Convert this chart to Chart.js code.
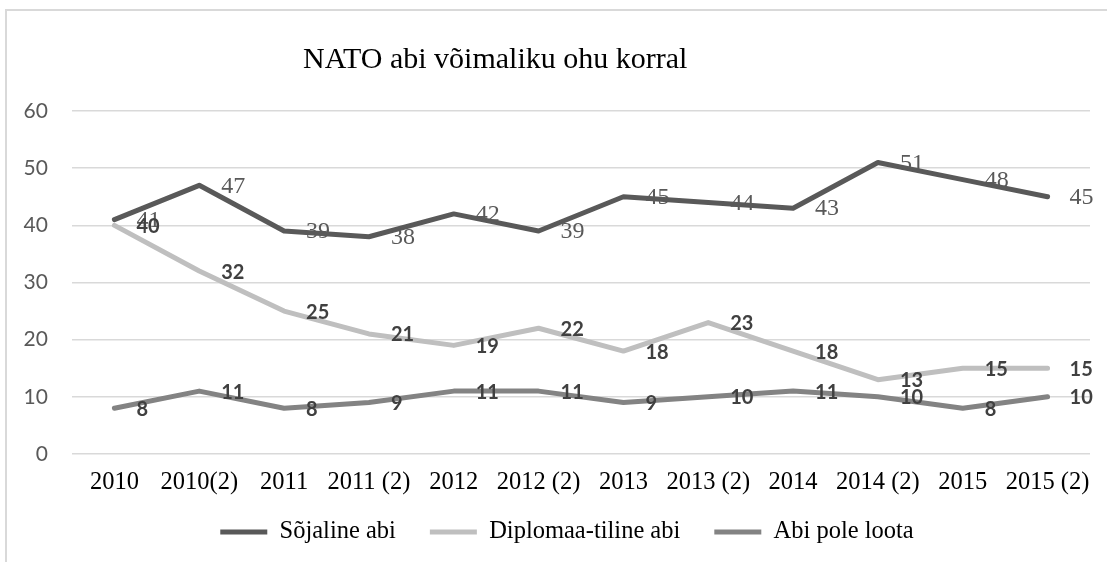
<!DOCTYPE html>
<html>
<head>
<meta charset="utf-8">
<title>NATO abi võimaliku ohu korral</title>
<script src="https://cdn.jsdelivr.net/npm/chart.js@4.4.0/dist/chart.umd.min.js"></script>
<style>
  html, body { margin: 0; padding: 0; background: #fff; overflow: hidden; }
  #frame { position: absolute; left: 5px; top: 9px; width: 1200px; height: 700px;
           border-left: 2px solid #d9d9d9; border-top: 2px solid #d9d9d9; }
  #chart { position: absolute; left: 0; top: 0; }
  #title { position: absolute; left: 303px; top: 43px; font: 30px/1 "Liberation Serif", serif;
           color: #000; white-space: nowrap; }
</style>
</head>
<body>
<div id="frame"></div>
<canvas id="chart" width="1107" height="562"></canvas>
<div id="title">NATO abi võimaliku ohu korral</div>
<script>
// andmed
const periods = ["2010", "2010(2)", "2011", "2011 (2)", "2012", "2012 (2)",
                 "2013", "2013 (2)", "2014", "2014 (2)", "2015", "2015 (2)"];
const sojaline = [41, 47, 39, 38, 42, 39, 45, 44, 43, 51, 48, 45];
const diplomaatiline = [40, 32, 25, 21, 19, 22, 18, 23, 18, 13, 15, 15];
const poleLoota = [8, 11, 8, 9, 11, 11, 9, 10, 11, 10, 8, 10];
const yTicks = [0, 10, 20, 30, 40, 50, 60];

const serif = '"Liberation Serif", "Times New Roman", serif';
const sans = 'Lato, "Open Sans", sans-serif';

// väärtused punktist paremale, nagu Excelis
const valueLabels = {
  id: "valueLabels",
  afterDatasetsDraw(chart) {
    const ctx = chart.ctx;
    chart.data.datasets.forEach((ds, i) => {
      const meta = chart.getDatasetMeta(i);
      ctx.save();
      ctx.font = ds.labelFont;
      ctx.fillStyle = ds.labelColor;
      ctx.textAlign = "left";
      ctx.textBaseline = "middle";
      meta.data.forEach((pt, j) => {
        ctx.fillText(String(ds.data[j]), pt.x + 22, pt.y + 1);
      });
      ctx.restore();
    });
  }
};

function line(label, data, color, labelFont, labelColor) {
  return {
    label, data,
    borderColor: color,
    backgroundColor: color,
    borderWidth: 5,
    borderCapStyle: "round",
    borderJoinStyle: "round",
    pointRadius: 0,
    tension: 0,
    labelFont, labelColor
  };
}

new Chart(document.getElementById("chart"), {
  type: "line",
  data: {
    labels: periods,
    datasets: [
      line("Sõjaline abi", sojaline, "#595959", "24px " + serif, "#595959"),
      line("Diplomaa-tiline abi", diplomaatiline, "#bfbfbf", "bold 20px " + sans, "#404040"),
      line("Abi pole loota", poleLoota, "#838383", "bold 20px " + sans, "#404040")
    ]
  },
  options: {
    responsive: false,
    animation: false,
    layout: { padding: { left: 44, right: 17, top: 111, bottom: 7.75 } },
    scales: {
      x: {
        offset: true,
        grid: { display: false, drawTicks: false },
        border: { display: false },
        // mirror, et silte ei lõigataks telje kasti järgi
        ticks: { mirror: true, color: "#000", font: { family: serif, size: 24.5 }, padding: -43.5,
                 maxRotation: 0, autoSkip: false },
        afterFit: s => { s.height = 31.75; }
      },
      y: {
        min: 0, max: 60,
        afterBuildTicks: s => { s.ticks = yTicks.map(v => ({ value: v })); },
        grid: { color: "#d9d9d9", lineWidth: 1.5, drawTicks: false },
        border: { display: false },
        ticks: { mirror: true, crossAlign: "far", color: "#595959", font: { family: sans, size: 21 }, padding: -48.4 },
        afterFit: s => { s.width = 28; }
      }
    },
    plugins: {
      legend: {
        position: "bottom",
        labels: {
          usePointStyle: true,
          pointStyle: "line",
          pointStyleWidth: 47,
          padding: 34,
          color: "#000",
          font: { family: serif, size: 24.5 }
        }
      },
      tooltip: { enabled: false }
    }
  },
  plugins: [valueLabels]
});
</script>
</body>
</html>
